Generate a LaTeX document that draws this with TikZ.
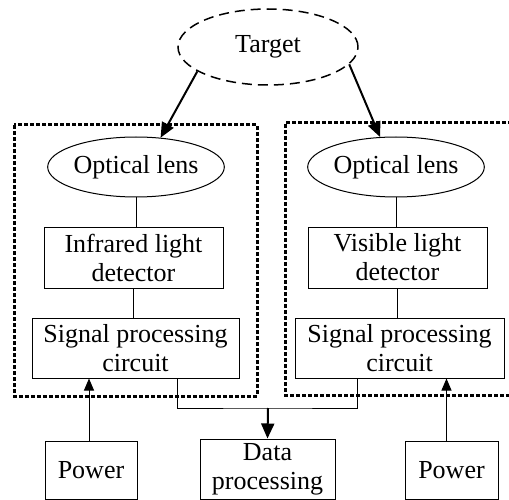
\documentclass[tikz,border=0pt]{standalone}
\usepackage{fontspec}
\setmainfont{Liberation Serif}
\usetikzlibrary{arrows.meta,shapes.geometric}
\begin{document}
\begin{tikzpicture}[x=1pt,y=-1pt,
  every node/.style={font=\fontsize{26}{29}\selectfont, inner sep=0pt, align=center},
  boxnode/.style={draw, line width=1pt, rectangle},
  ellnode/.style={draw, line width=1pt, ellipse},
  thin line/.style={line width=1pt},
  bigarrow/.style={line width=2pt, -{Triangle[length=15pt,width=13pt]}},
  smallarrow/.style={line width=1pt, -{Triangle[length=12pt,width=10pt]}},
  groupbox/.style={line width=3pt, dash pattern=on 4pt off 2pt}
]
\useasboundingbox (0,0) rectangle (509,500);
% target
\node[ellnode, dashed, dash pattern=on 10pt off 6pt, line width=1.5pt, minimum width=180pt, minimum height=76pt] (target) at (268,47) {Target};
% groups
\draw[groupbox] (14,125) rectangle (257,396);
\draw[groupbox] (512,123) -- (285,123) -- (285,395) -- (512,395);
% left chain
\node[ellnode, minimum width=164pt, minimum height=60pt] (lensL) at (136,167) {Optical lens};
\node[boxnode, minimum width=179pt, minimum height=61pt] (irdet) at (133.5,257.5) {Infrared light\\detector};
\node[boxnode, minimum width=207pt, minimum height=60pt] (sigL) at (135.5,348) {Signal processing\\circuit};
% right chain
\node[ellnode, minimum width=164pt, minimum height=60pt] (lensR) at (396,167) {Optical lens};
\node[boxnode, minimum width=179pt, minimum height=61pt] (visdet) at (397.5,257.5) {Visible light\\detector};
\node[boxnode, minimum width=209pt, minimum height=60pt] (sigR) at (399.5,348) {Signal processing\\circuit};
% bottom
\node[boxnode, minimum width=92pt, minimum height=58pt] (powL) at (91,470) {Power};
\node[boxnode, minimum width=135pt, minimum height=60pt] (data) at (267.5,469) {Data\\processing};
\node[boxnode, minimum width=93pt, minimum height=58pt] (powR) at (451.5,470) {Power};
\coordinate (j) at (268,408);
% connectors
\draw[bigarrow] (target.199) -- (lensL.50);
\draw[bigarrow] (target.348) -- (lensR.118);
\draw[thin line] (lensL.south) -- (lensL.south |- irdet.north);
\draw[thin line] (irdet.south) -- (irdet.south |- sigL.north);
\draw[thin line] (lensR.south) -- (lensR.south |- visdet.north);
\draw[thin line] (visdet.south) -- (visdet.south |- sigR.north);
\draw[thin line] ([xshift=41.5pt]sigL.south) |- (j) -| ([xshift=-42.5pt]sigR.south);
\draw[bigarrow] (j) -- (data.north);
\draw[smallarrow] ([xshift=-2pt]powL.north) -- ([xshift=-2pt]powL.north |- sigL.south);
\draw[smallarrow] ([xshift=-5pt]powR.north) -- ([xshift=-5pt]powR.north |- sigR.south);
\end{tikzpicture}
\end{document}
